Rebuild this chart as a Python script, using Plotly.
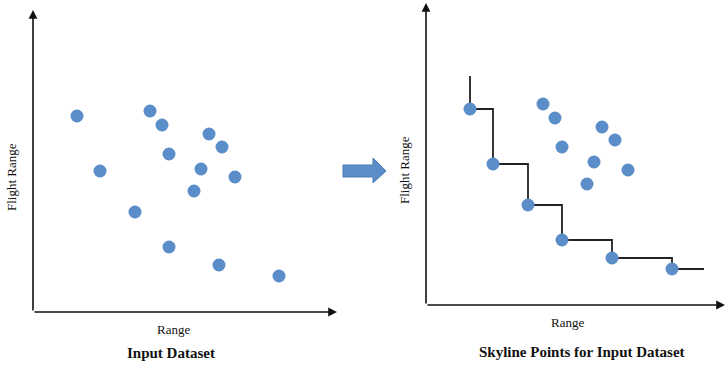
import plotly.graph_objects as go

# Dataset: range (x) and flight range (y) of each item
x_range = [44, 117, 129, 176, 189, 136, 67, 168, 202, 161, 102, 136, 186, 246]
flight_range = [196, 201, 187, 178, 165, 158, 141, 143, 135, 121, 100, 65, 47, 36]

# Staircase ends beyond the first and last skyline points
stair_top = 229
stair_end = 278

axis_x_max = 304
axis_y_max = 302

W, H = 725, 365
DOT = "#5B8DC9"
SERIF = "Liberation Serif"


def skyline(xs, ys):
    pts = list(zip(xs, ys))
    keep = []
    for p in pts:
        dominated = any(q != p and q[0] <= p[0] and q[1] <= p[1] for q in pts)
        if not dominated:
            keep.append(p)
    return sorted(keep)


sky = skyline(x_range, flight_range)
sky_x = [p[0] for p in sky]
sky_y = [p[1] for p in sky]
others = [(a, b) for a, b in zip(x_range, flight_range) if (a, b) not in sky]


def px(x):
    return x / W


def py(y):
    return (H - y) / H


fig = go.Figure()

# Left panel: all points
fig.add_trace(go.Scatter(x=x_range, y=flight_range, mode="markers",
                         marker=dict(size=13, color=DOT), xaxis="x", yaxis="y"))

# Right panel: staircase plus points
fig.add_trace(go.Scatter(x=[sky_x[0]] + sky_x + [stair_end],
                         y=[stair_top] + sky_y + [sky_y[-1]],
                         mode="lines", line=dict(color="#222222", width=1.8, shape="hv"),
                         xaxis="x2", yaxis="y2"))
fig.add_trace(go.Scatter(x=[p[0] for p in others], y=[p[1] for p in others], mode="markers",
                         marker=dict(size=13, color=DOT), xaxis="x2", yaxis="y2"))
fig.add_trace(go.Scatter(x=sky_x, y=sky_y, mode="markers",
                         marker=dict(size=13, color=DOT), xaxis="x2", yaxis="y2"))

hidden = dict(visible=False, fixedrange=True)
fig.update_layout(
    width=W, height=H,
    margin=dict(l=0, r=0, t=0, b=0),
    paper_bgcolor="white", plot_bgcolor="white",
    showlegend=False,
    xaxis=dict(domain=[px(33), px(337)], range=[0, axis_x_max], **hidden),
    yaxis=dict(domain=[py(312), py(10)], range=[0, axis_y_max], **hidden),
    xaxis2=dict(domain=[px(426), 1.0], range=[0, 299], anchor="y2", **hidden),
    yaxis2=dict(domain=[py(305), py(3)], range=[0, axis_y_max], anchor="x2", **hidden),
)

# Axis lines with arrow heads
for xr, yr, xmax in (("x", "y", axis_x_max), ("x2", "y2", 299)):
    for tip, tail in (((0, axis_y_max), (0, 0)), ((xmax, 0), (0, 0))):
        fig.add_annotation(x=tip[0], y=tip[1], ax=tail[0], ay=tail[1],
                           xref=xr, yref=yr, axref=xr, ayref=yr, text="",
                           showarrow=True, arrowhead=2, arrowsize=1.1,
                           arrowwidth=1.6, arrowcolor="#111111", standoff=0)

# Axis titles and panel captions
labels = [
    ("Flight Range", 11, 177, 13, -90),
    ("Flight Range", 404, 170, 13, -90),
    ("Range", 173, 329, 13, 0),
    ("Range", 567, 322, 13, 0),
    ("<b>Input Dataset</b>", 171, 353, 15, 0),
    ("<b>Skyline Points for Input Dataset</b>", 582, 352, 15, 0),
]
for text, x, y, size, ang in labels:
    fig.add_annotation(x=px(x), y=py(y), xref="paper", yref="paper", text=text,
                       showarrow=False, textangle=ang, xanchor="center", yanchor="middle",
                       font=dict(family=SERIF, size=size, color="#111111"))

# Block arrow between the panels
arrow = [(343, 165), (373, 165), (373, 158), (386, 171), (373, 183), (373, 177), (343, 177)]
path = "M " + " L ".join(f"{px(a):.5f},{py(b):.5f}" for a, b in arrow) + " Z"
fig.add_shape(type="path", path=path, xref="paper", yref="paper",
              fillcolor=DOT, line=dict(color="#4A7DB8", width=1))

fig.write_html("out.html")
